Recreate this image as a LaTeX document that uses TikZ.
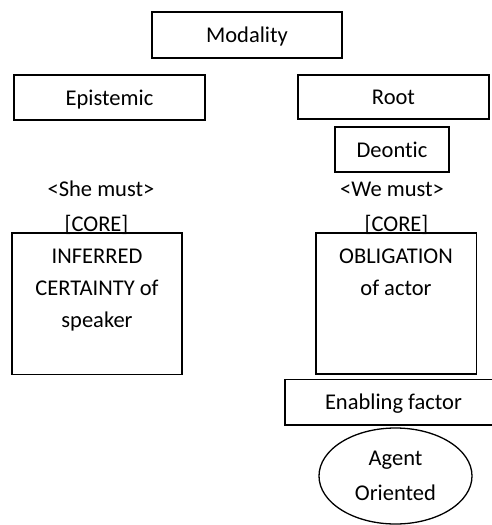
\documentclass[tikz,border=0pt]{standalone}
\usepackage{fontspec}
\setmainfont{Carlito}[Ligatures=NoCommon]
\usetikzlibrary{shapes.geometric}
\begin{document}
\begin{tikzpicture}[x=1pt,y=-1pt,
  every node/.style={font=\fontsize{22.5}{32}\selectfont},
  box/.style={draw, line width=1.3pt, inner sep=0pt, text height=15pt, text depth=0pt},
  tbox/.style={draw, line width=1.3pt, inner sep=0pt},
  lbl/.style={anchor=base, inner sep=0pt}]
\useasboundingbox (0,0) rectangle (492,525);
\clip (0,0) rectangle (492,525);
\node[box, minimum width=190pt, minimum height=46pt] (modality) at (247,35) {Modality};
\node[box, minimum width=191pt, minimum height=45pt] (epistemic) at (109.5,97.5) {Epistemic};
\node[box, minimum width=191pt, minimum height=44pt] (root) at (393.5,97) {Root};
\node[box, minimum width=114pt, minimum height=45pt] (deontic) at (392,149.5) {Deontic};
\node[lbl] (she) at (101,196) {<She must>};
\node[lbl] (we) at (392,196) {<We must>};
\node[tbox, minimum width=170pt, minimum height=141.5pt] (left) at (97,303.75) {};
\node[tbox, minimum width=160.5pt, minimum height=141pt] (right) at (396.25,303.5) {};
\node[lbl] (corel) at (96.5,231) {[CORE]};
\node[lbl] (corer) at (396.5,231) {[CORE]};
\node[lbl] (l1) at (97,263) {INFERRED};
\node[lbl] (l2) at (97,295) {CERTAINTY of};
\node[lbl] (l3) at (97,327) {speaker};
\node[lbl] (r1) at (396,263) {OBLIGATION};
\node[lbl] (r2) at (396,295) {of actor};
\node[box, minimum width=214pt, minimum height=45.5pt] (enabling) at (392,402.25) {\hspace*{3pt}Enabling factor};
\node[draw, ellipse, line width=1.3pt, inner sep=0pt, minimum width=153pt, minimum height=96pt,
  align=center, font=\fontsize{22.5}{35}\selectfont] (agent) at (395.5,476) {Agent\\Oriented};
\end{tikzpicture}
\end{document}
